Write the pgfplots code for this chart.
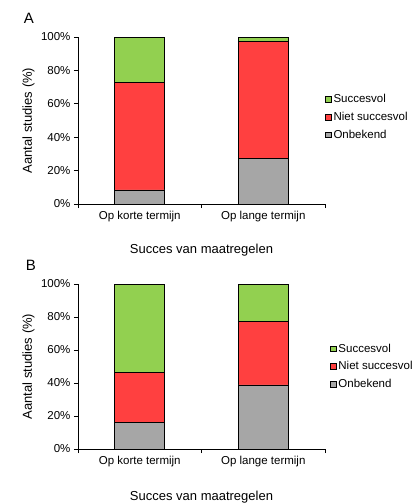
\documentclass[border=0pt]{standalone}
\usepackage{pgfplots}
\pgfplotsset{compat=1.18}
\usepackage{fontspec}
\setmainfont{Liberation Sans}
\definecolor{cgreen}{RGB}{146,208,80}
\definecolor{cred}{RGB}{255,64,64}
\definecolor{cgray}{RGB}{166,166,166}
\pgfplotsset{
  panel/.style={
    scale only axis, width=247pt,
    ybar stacked, bar width=50pt,
    xmin=-0.5, xmax=1.5, ymin=0, ymax=100,
    axis lines=left, axis line style={-, black, line width=0.8pt},
    xtick={0,1}, xticklabels={Op korte termijn, Op lange termijn},
    major x tick style={draw=none},
    minor xtick={-0.5,0.5,1.5},
    minor tick length=4pt, major tick length=4pt,
    tick align=outside,
    ytick={0,20,40,60,80,100},
    yticklabel={\pgfmathprintnumber{\tick}\%},
    tick label style={font=\fontsize{11.5}{13}\selectfont},
    tick style={black, line width=0.8pt},
    every axis y label/.style={at={(axis description cs:-0.2,0.5)},rotate=90,anchor=center,font=\fontsize{13}{15}\selectfont},
    ylabel={Aantal studies (\%)},
    xlabel={Succes van maatregelen},
    reverse legend,
    legend cell align=left,
    legend style={draw=none, fill=none, font=\fontsize{11.5}{13}\selectfont, row sep=4pt, inner sep=0pt},
    legend image code/.code={\draw[#1, draw=black, line width=0.7pt] (0pt,-2.8pt) rectangle (5.6pt,2.8pt);},
    every axis plot/.append style={draw=black, line width=0.9pt},
    /pgf/number format/assume math mode=true,
  }
}
\begin{document}
\begin{tikzpicture}
\useasboundingbox (0,0) rectangle (419pt,-503pt);
\begin{axis}[panel, height=167pt, at={(78pt,-204pt)}, anchor=south west,
  every axis x label/.style={at={(axis description cs:0.5,-0.275)},anchor=center,font=\fontsize{13}{15}\selectfont},
  legend style={at={(rel axis cs:1.0,0.52)}, anchor=west, xshift=0pt}]
\addplot[fill=cgray] coordinates {(0,8.4) (1,27)};
\addplot[fill=cred] coordinates {(0,64.5) (1,70.2)};
\addplot[fill=cgreen] coordinates {(0,27.1) (1,2.8)};
\legend{Onbekend, Niet succesvol, Succesvol}
\end{axis}
\node[font=\fontsize{15}{17}\selectfont] at (29pt,-18pt) {A};
\begin{axis}[panel, height=165pt, at={(78pt,-449pt)}, anchor=south west,
  every axis x label/.style={at={(axis description cs:0.5,-0.29)},anchor=center,font=\fontsize{13}{15}\selectfont},
  legend style={at={(rel axis cs:1.02,0.50)}, anchor=west}]
\addplot[fill=cgray] coordinates {(0,15.8) (1,38.8)};
\addplot[fill=cred] coordinates {(0,30.4) (1,38.6)};
\addplot[fill=cgreen] coordinates {(0,53.8) (1,22.6)};
\legend{Onbekend, Niet succesvol, Succesvol}
\end{axis}
\node[font=\fontsize{15}{17}\selectfont] at (31pt,-265pt) {B};
\end{tikzpicture}
\end{document}
